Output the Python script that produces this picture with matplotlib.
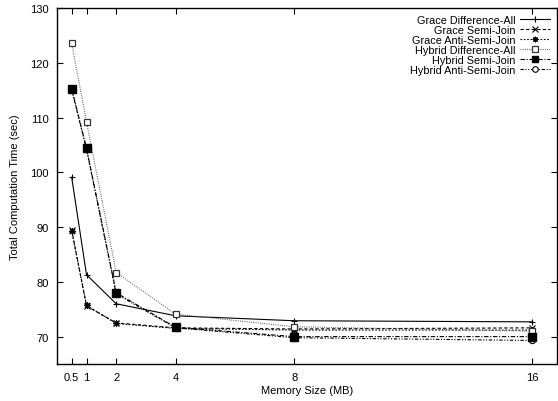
import matplotlib
matplotlib.use('Agg')
import matplotlib.pyplot as plt

plt.rcParams['font.family'] = ['Liberation Sans', 'DejaVu Sans']

mem_mb = [0.5, 1, 2, 4, 8, 16]

grace_diff_all = [99.1, 81.3, 76.0, 73.8, 72.9, 72.7]
grace_semi = [89.5, 75.6, 72.5, 71.6, 71.4, 71.6]
grace_anti_semi = [89.3, 75.7, 72.4, 71.5, 71.2, 71.2]
hybrid_diff_all = [123.6, 109.2, 81.7, 74.1, 71.8, 71.0]
hybrid_semi = [115.3, 104.4, 78.0, 71.7, 70.0, 70.0]
hybrid_anti_semi = [115.1, 104.2, 77.8, 71.6, 69.8, 69.3]

labels = ['Grace Difference-All', 'Grace Semi-Join', 'Grace Anti-Semi-Join',
          'Hybrid Difference-All', 'Hybrid Semi-Join', 'Hybrid Anti-Semi-Join']
y_ticks = [70, 80, 90, 100, 110, 120, 130]

fig = plt.figure(figsize=(5.58, 4.02), dpi=100)
ax = fig.add_axes([0.1018, 0.092, 0.896, 0.8856])

lw = 0.8
ax.plot(mem_mb, grace_diff_all, color='k', lw=lw, ls='-', marker='+', ms=5,
        mew=0.8, label=labels[0])
ax.plot(mem_mb, grace_semi, color='k', lw=lw, ls=(0, (3, 2)), marker='x', ms=4,
        mew=0.8, label=labels[1])
ax.plot(mem_mb, grace_anti_semi, color='k', lw=lw, ls=(0, (1.5, 1.5)),
        marker=(8, 2, 0), ms=5, mew=0.8, label=labels[2])
ax.plot(mem_mb, hybrid_diff_all, color='#555555', lw=lw, ls=(0, (0.8, 1.2)),
        marker='s', ms=5, mfc='white', mec='#333333', mew=0.9, label=labels[3])
ax.plot(mem_mb, hybrid_semi, color='k', lw=lw, ls=(0, (4, 1.5, 1, 1.5)),
        marker='s', ms=6, mfc='k', mec='k', label=labels[4], zorder=3)
ax.plot(mem_mb, hybrid_anti_semi, color='k', lw=lw,
        ls=(0, (3, 1.5, 1, 1.5, 1, 1.5)), marker='o', ms=4.5, mfc='white',
        mec='k', mew=0.8, label=labels[5], zorder=2)

ax.set_xlim(0, 16.83)
ax.set_ylim(65, 130)
ax.set_xticks(mem_mb)
ax.set_xticklabels(['0.5', '1', '2', '4', '8', '16'])
ax.set_yticks(y_ticks)

ax.tick_params(direction='in', length=4, width=0.8, top=True, right=True,
               labelsize=8, pad=6)
for s in ax.spines.values():
    s.set_linewidth(1.0)

ax.set_xlabel('Memory Size (MB)', fontsize=8, labelpad=2)
ax.set_ylabel('Total Computation Time (sec)', fontsize=8, labelpad=7)

leg = ax.legend(loc='upper right', frameon=False, markerfirst=False,
                fontsize=7.8, handlelength=2.8, handletextpad=0.4,
                labelspacing=0.0, borderaxespad=0.2,
                bbox_to_anchor=(1.0, 1.0))
for h in leg.legend_handles:
    h.set_markersize(4)

fig.savefig('out.png', dpi=100)
